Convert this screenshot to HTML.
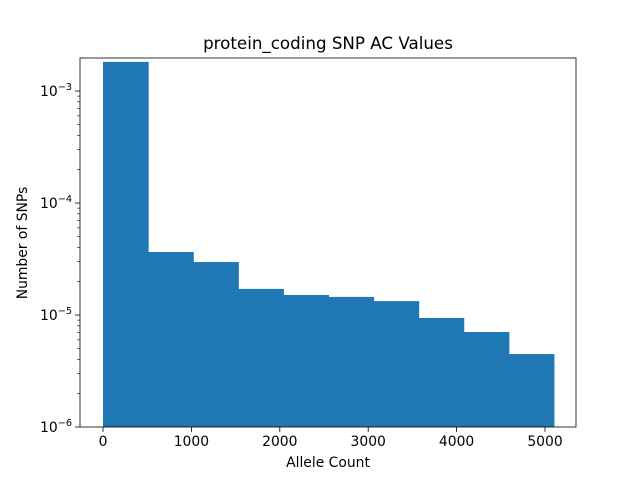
<!DOCTYPE html>
<html><head><meta charset="utf-8"><style>body{margin:0;background:#fff}svg{display:block}text{font-family:"DejaVu Sans","Liberation Sans",sans-serif;fill:#000}</style></head>
<body>
<svg id="chart" width="640" height="480">
<rect width="640" height="480" fill="#fff"/>
<text x="328" y="49" font-size="16.7" text-anchor="middle">protein_coding SNP AC Values</text>
<g id="bars"></g>
<g id="axes"></g>
<text x="328" y="467" font-size="13.9" text-anchor="middle">Allele Count</text>
<text transform="translate(27,243) rotate(-90)" font-size="13.9" text-anchor="middle">Number of SNPs</text>
</svg>
<script>
const binEdges=[0,510,1020,1530,2040,2550,3060,3570,4080,4590,5100];
const counts=[1.82e-3,3.65e-5,2.97e-5,1.71e-5,1.51e-5,1.45e-5,1.33e-5,9.4e-6,7.05e-6,4.48e-6];
const xTicks=[0,1000,2000,3000,4000,5000];
const yDecades=[-6,-5,-4,-3];
const L=80,R=576,T=58,B=427;
const sx=v=>103+v*0.0884;
const sy=v=>427-(Math.log10(v)+6)*112;
const NS="http://www.w3.org/2000/svg";
const bars=document.getElementById('bars'),axes=document.getElementById('axes');
function mk(tag,attrs,parent){const e=document.createElementNS(NS,tag);for(const k in attrs)e.setAttribute(k,attrs[k]);parent.appendChild(e);return e;}
counts.forEach((c,i)=>{
 const x0=sx(binEdges[i]),x1=sx(binEdges[i+1]),y=sy(c);
 const r=mk('rect',{x:x0,y:y,width:x1-x0+0.6,height:B-y,fill:'#1f77b4'},bars);
 
 
});
const f=mk('rect',{x:L,y:T,width:R-L,height:B-T,fill:'none',stroke:'#000','stroke-width':0.8},axes);


xTicks.forEach(t=>{
 const x=sx(t);
 mk('line',{x1:x,x2:x,y1:B,y2:B+4.9,stroke:'#000','stroke-width':0.8},axes);
 const tx=mk('text',{x:x,y:B+19,'font-size':13.9,'text-anchor':'middle'},axes);
 tx.textContent=t;
 
 
});
yDecades.forEach(d=>{
 const y=sy(Math.pow(10,d));
 mk('line',{x1:L-4.9,x2:L,y1:y,y2:y,stroke:'#000','stroke-width':0.8},axes);
 const tx=mk('text',{x:L-8,y:y+5,'font-size':13.9,'text-anchor':'end'},axes);
 tx.innerHTML='10<tspan dy="-6" font-size="9.7">'+(d<0?'\u2212':'')+Math.abs(d)+'</tspan>';
 
 
 for(let m=2;m<10;m++){const v=m*Math.pow(10,d);const yy=sy(v);if(yy<T)continue;
  mk('line',{x1:L-2.8,x2:L,y1:yy,y2:yy,stroke:'#000','stroke-width':0.6},axes);}
});
</script>
</body></html>
